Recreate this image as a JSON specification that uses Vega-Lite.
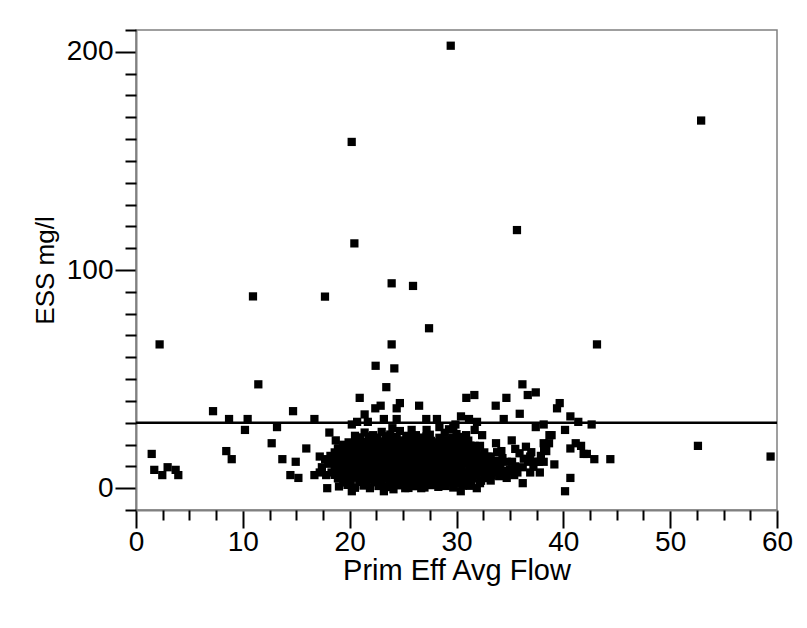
{
  "$schema": "https://vega.github.io/schema/vega-lite/v6.json",
  "width": 641,
  "height": 480,
  "autosize": "none",
  "padding": {"left": 136, "top": 30, "right": 30, "bottom": 118},
  "background": "white",
  "config": {
    "view": {"stroke": "#808080", "strokeWidth": 1.5},
    "font": "Liberation Sans"
  },
  "resolve": {"axis": {"x": "independent", "y": "independent"}},
  "layer": [
    {
      "data": {
        "values": [
          {"flow": 29.46, "ess": 202.8}, {"flow": 52.9, "ess": 168.5}, {"flow": 20.19, "ess": 158.7}, {"flow": 35.66, "ess": 118.3},
          {"flow": 20.44, "ess": 112.2}, {"flow": 23.93, "ess": 93.9}, {"flow": 25.93, "ess": 92.7}, {"flow": 17.69, "ess": 87.8},
          {"flow": 10.95, "ess": 87.9}, {"flow": 27.43, "ess": 73.3}, {"flow": 2.21, "ess": 65.9}, {"flow": 23.93, "ess": 65.9},
          {"flow": 43.15, "ess": 65.9}, {"flow": 22.43, "ess": 56.1}, {"flow": 24.18, "ess": 54.9}, {"flow": 11.45, "ess": 47.6},
          {"flow": 23.43, "ess": 46.3}, {"flow": 36.17, "ess": 47.6}, {"flow": 20.94, "ess": 41.4}, {"flow": 36.67, "ess": 42.7},
          {"flow": 37.42, "ess": 43.9}, {"flow": 34.67, "ess": 41.4}, {"flow": 30.92, "ess": 41.4}, {"flow": 31.67, "ess": 42.7},
          {"flow": 39.66, "ess": 39.0}, {"flow": 39.41, "ess": 36.6}, {"flow": 33.67, "ess": 37.8}, {"flow": 26.5, "ess": 37.8},
          {"flow": 22.4, "ess": 36.6}, {"flow": 22.9, "ess": 37.8}, {"flow": 24.4, "ess": 36.6}, {"flow": 24.7, "ess": 39.0},
          {"flow": 7.21, "ess": 35.3}, {"flow": 14.7, "ess": 35.3}, {"flow": 35.92, "ess": 34.1}, {"flow": 21.4, "ess": 33.8},
          {"flow": 8.71, "ess": 31.7}, {"flow": 10.45, "ess": 31.7}, {"flow": 16.7, "ess": 31.7}, {"flow": 23.2, "ess": 31.7},
          {"flow": 24.4, "ess": 31.7}, {"flow": 27.17, "ess": 31.7}, {"flow": 28.17, "ess": 31.7}, {"flow": 34.42, "ess": 31.7},
          {"flow": 31.17, "ess": 31.7}, {"flow": 30.42, "ess": 32.9}, {"flow": 40.66, "ess": 32.9}, {"flow": 31.92, "ess": 30.4},
          {"flow": 20.7, "ess": 30.4}, {"flow": 21.7, "ess": 30.4}, {"flow": 41.4, "ess": 30.4}, {"flow": 20.2, "ess": 29.2},
          {"flow": 29.9, "ess": 29.2}, {"flow": 38.16, "ess": 29.2}, {"flow": 42.65, "ess": 29.2}, {"flow": 28.4, "ess": 28.0},
          {"flow": 29.7, "ess": 28.0}, {"flow": 37.42, "ess": 28.0}, {"flow": 13.2, "ess": 28.0}, {"flow": 10.2, "ess": 26.7},
          {"flow": 40.16, "ess": 26.7}, {"flow": 27.2, "ess": 26.7}, {"flow": 25.8, "ess": 26.7}, {"flow": 31.7, "ess": 26.7},
          {"flow": 18.1, "ess": 25.5}, {"flow": 21.4, "ess": 25.5}, {"flow": 38.9, "ess": 24.3}, {"flow": 38.7, "ess": 24.3},
          {"flow": 26.2, "ess": 24.3}, {"flow": 22.2, "ess": 24.3}, {"flow": 32.4, "ess": 24.3}, {"flow": 30.9, "ess": 24.3},
          {"flow": 35.17, "ess": 21.9}, {"flow": 18.7, "ess": 21.9}, {"flow": 12.7, "ess": 20.6}, {"flow": 33.7, "ess": 20.6},
          {"flow": 38.16, "ess": 20.6}, {"flow": 38.66, "ess": 20.6}, {"flow": 41.16, "ess": 20.6}, {"flow": 41.66, "ess": 19.4},
          {"flow": 52.6, "ess": 19.4}, {"flow": 40.66, "ess": 18.2}, {"flow": 38.4, "ess": 17.0}, {"flow": 15.94, "ess": 18.2},
          {"flow": 18.9, "ess": 18.2}, {"flow": 8.45, "ess": 17.0}, {"flow": 1.47, "ess": 15.7}, {"flow": 41.9, "ess": 15.7},
          {"flow": 42.2, "ess": 15.7}, {"flow": 59.4, "ess": 14.5}, {"flow": 17.2, "ess": 14.5}, {"flow": 8.96, "ess": 13.3},
          {"flow": 13.7, "ess": 13.3}, {"flow": 17.7, "ess": 13.3}, {"flow": 42.9, "ess": 13.3}, {"flow": 44.4, "ess": 13.3},
          {"flow": 14.95, "ess": 12.1}, {"flow": 38.16, "ess": 12.1}, {"flow": 39.16, "ess": 10.9}, {"flow": 2.96, "ess": 9.6},
          {"flow": 17.4, "ess": 9.6}, {"flow": 1.71, "ess": 8.4}, {"flow": 3.71, "ess": 8.4}, {"flow": 17.2, "ess": 7.2},
          {"flow": 37.8, "ess": 7.2}, {"flow": 36.9, "ess": 7.2}, {"flow": 2.46, "ess": 6.0}, {"flow": 3.96, "ess": 6.0},
          {"flow": 14.45, "ess": 6.0}, {"flow": 16.7, "ess": 6.0}, {"flow": 17.8, "ess": 6.0}, {"flow": 15.2, "ess": 4.7},
          {"flow": 40.66, "ess": 4.7}, {"flow": 17.9, "ess": 0.0}, {"flow": 20.2, "ess": -1.4}, {"flow": 23.2, "ess": -1.4},
          {"flow": 30.4, "ess": -1.4}, {"flow": 40.16, "ess": -1.4}, {"flow": 21.9, "ess": 0.0}, {"flow": 25.2, "ess": 0.0},
          {"flow": 26.7, "ess": 0.0}, {"flow": 31.9, "ess": 0.0}, {"flow": 33.2, "ess": 3.5}, {"flow": 36.2, "ess": 2.3},
          {"flow": 32.2, "ess": 2.3}, {"flow": 31.2, "ess": 1.1}, {"flow": 34.7, "ess": 4.7}, {"flow": 34.2, "ess": 7.2},
          {"flow": 35.4, "ess": 6.0}, {"flow": 35.7, "ess": 7.2}, {"flow": 36.2, "ess": 9.6}, {"flow": 36.7, "ess": 12.1},
          {"flow": 36.9, "ess": 14.5}, {"flow": 37.4, "ess": 12.1}, {"flow": 37.7, "ess": 12.1}, {"flow": 38.2, "ess": 18.2},
          {"flow": 34.7, "ess": 12.1}, {"flow": 35.2, "ess": 12.1}, {"flow": 33.2, "ess": 14.5}, {"flow": 34.2, "ess": 17.0},
          {"flow": 31.7, "ess": 19.4}, {"flow": 32.2, "ess": 19.4}, {"flow": 27.4, "ess": 21.9}, {"flow": 30.7, "ess": 20.6},
          {"flow": 28.4, "ess": 23.1},
          {"flow": 19.0, "ess": 0.8}, {"flow": 19.8, "ess": 1.5}, {"flow": 20.5, "ess": 0.2}, {"flow": 21.3, "ess": 1.2},
          {"flow": 22.7, "ess": 1.0}, {"flow": 23.4, "ess": 0.5}, {"flow": 24.1, "ess": -0.5}, {"flow": 24.8, "ess": 1.3},
          {"flow": 25.5, "ess": 0.1}, {"flow": 26.2, "ess": 0.9}, {"flow": 27.0, "ess": 0.3}, {"flow": 27.6, "ess": 1.4},
          {"flow": 28.3, "ess": 0.6}, {"flow": 29.0, "ess": 1.0}, {"flow": 29.7, "ess": 0.3}, {"flow": 30.6, "ess": 1.2},
          {"flow": 19.4, "ess": 2.6}, {"flow": 20.1, "ess": 2.2}, {"flow": 20.9, "ess": 2.9}, {"flow": 21.6, "ess": 2.3},
          {"flow": 22.3, "ess": 2.7}, {"flow": 23.0, "ess": 2.1}, {"flow": 23.7, "ess": 2.8}, {"flow": 24.4, "ess": 2.4},
          {"flow": 25.1, "ess": 2.9}, {"flow": 25.8, "ess": 2.2}, {"flow": 26.5, "ess": 2.6}, {"flow": 27.2, "ess": 2.0},
          {"flow": 27.9, "ess": 2.8}, {"flow": 28.6, "ess": 2.3}, {"flow": 29.3, "ess": 2.7}, {"flow": 30.0, "ess": 2.1},
          {"flow": 30.7, "ess": 2.6}, {"flow": 31.4, "ess": 2.9},
          {"flow": 18.9, "ess": 4.5}, {"flow": 19.6, "ess": 3.7}, {"flow": 20.3, "ess": 4.8}, {"flow": 21.0, "ess": 3.5},
          {"flow": 21.7, "ess": 4.4}, {"flow": 22.4, "ess": 3.9}, {"flow": 23.1, "ess": 4.7}, {"flow": 23.8, "ess": 3.6},
          {"flow": 24.5, "ess": 4.2}, {"flow": 25.2, "ess": 3.8}, {"flow": 25.9, "ess": 4.6}, {"flow": 26.6, "ess": 3.5},
          {"flow": 27.3, "ess": 4.3}, {"flow": 28.0, "ess": 3.9}, {"flow": 28.7, "ess": 4.8}, {"flow": 29.4, "ess": 3.6},
          {"flow": 30.1, "ess": 4.4}, {"flow": 30.8, "ess": 3.8}, {"flow": 31.5, "ess": 4.5}, {"flow": 32.3, "ess": 3.4},
          {"flow": 33.0, "ess": 4.6},
          {"flow": 18.6, "ess": 6.1}, {"flow": 19.3, "ess": 5.7}, {"flow": 20.0, "ess": 6.3}, {"flow": 20.7, "ess": 5.8},
          {"flow": 21.4, "ess": 6.2}, {"flow": 22.1, "ess": 5.6}, {"flow": 22.8, "ess": 6.0}, {"flow": 23.5, "ess": 6.4},
          {"flow": 24.2, "ess": 5.7}, {"flow": 24.9, "ess": 6.1}, {"flow": 25.6, "ess": 5.8}, {"flow": 26.3, "ess": 6.3},
          {"flow": 27.0, "ess": 5.6}, {"flow": 27.7, "ess": 6.0}, {"flow": 28.4, "ess": 6.4}, {"flow": 29.1, "ess": 5.8},
          {"flow": 29.8, "ess": 6.2}, {"flow": 30.5, "ess": 5.7}, {"flow": 31.2, "ess": 6.1}, {"flow": 31.9, "ess": 5.9},
          {"flow": 32.6, "ess": 6.3}, {"flow": 33.3, "ess": 5.8},
          {"flow": 18.3, "ess": 7.2}, {"flow": 19.0, "ess": 8.0}, {"flow": 19.7, "ess": 7.4}, {"flow": 20.4, "ess": 8.2},
          {"flow": 21.1, "ess": 7.0}, {"flow": 21.8, "ess": 7.8}, {"flow": 22.5, "ess": 7.3}, {"flow": 23.2, "ess": 8.1},
          {"flow": 23.9, "ess": 7.1}, {"flow": 24.6, "ess": 7.9}, {"flow": 25.3, "ess": 7.4}, {"flow": 26.0, "ess": 8.3},
          {"flow": 26.7, "ess": 7.2}, {"flow": 27.4, "ess": 7.7}, {"flow": 28.1, "ess": 7.0}, {"flow": 28.8, "ess": 8.1},
          {"flow": 29.5, "ess": 7.5}, {"flow": 30.2, "ess": 7.9}, {"flow": 30.9, "ess": 7.1}, {"flow": 31.6, "ess": 8.0},
          {"flow": 32.3, "ess": 7.4}, {"flow": 33.0, "ess": 8.2}, {"flow": 33.7, "ess": 7.3},
          {"flow": 18.6, "ess": 9.4}, {"flow": 19.3, "ess": 9.8}, {"flow": 20.0, "ess": 9.3}, {"flow": 20.7, "ess": 9.7},
          {"flow": 21.4, "ess": 9.2}, {"flow": 22.1, "ess": 9.6}, {"flow": 22.8, "ess": 9.9}, {"flow": 23.5, "ess": 9.3},
          {"flow": 24.2, "ess": 9.7}, {"flow": 24.9, "ess": 9.2}, {"flow": 25.6, "ess": 9.8}, {"flow": 26.3, "ess": 9.4},
          {"flow": 27.0, "ess": 9.6}, {"flow": 27.7, "ess": 9.1}, {"flow": 28.4, "ess": 9.7}, {"flow": 29.1, "ess": 9.3},
          {"flow": 29.8, "ess": 9.8}, {"flow": 30.5, "ess": 9.2}, {"flow": 31.2, "ess": 9.6}, {"flow": 31.9, "ess": 9.4},
          {"flow": 32.6, "ess": 9.9}, {"flow": 33.3, "ess": 9.3}, {"flow": 34.0, "ess": 9.0}, {"flow": 34.7, "ess": 8.0},
          {"flow": 18.0, "ess": 11.2}, {"flow": 18.7, "ess": 10.6}, {"flow": 19.4, "ess": 11.5}, {"flow": 20.1, "ess": 10.8},
          {"flow": 20.8, "ess": 11.4}, {"flow": 21.5, "ess": 10.5}, {"flow": 22.2, "ess": 11.3}, {"flow": 22.9, "ess": 10.9},
          {"flow": 23.6, "ess": 11.6}, {"flow": 24.3, "ess": 10.7}, {"flow": 25.0, "ess": 11.2}, {"flow": 25.7, "ess": 10.6},
          {"flow": 26.4, "ess": 11.5}, {"flow": 27.1, "ess": 10.9}, {"flow": 27.8, "ess": 11.3}, {"flow": 28.5, "ess": 10.5},
          {"flow": 29.2, "ess": 11.4}, {"flow": 29.9, "ess": 10.8}, {"flow": 30.6, "ess": 11.6}, {"flow": 31.3, "ess": 10.7},
          {"flow": 32.0, "ess": 11.2}, {"flow": 32.7, "ess": 10.6}, {"flow": 33.4, "ess": 11.3}, {"flow": 34.1, "ess": 10.9},
          {"flow": 18.4, "ess": 12.9}, {"flow": 19.1, "ess": 13.2}, {"flow": 19.8, "ess": 12.7}, {"flow": 20.5, "ess": 13.1},
          {"flow": 21.2, "ess": 12.8}, {"flow": 21.9, "ess": 13.3}, {"flow": 22.6, "ess": 12.6}, {"flow": 23.3, "ess": 13.0},
          {"flow": 24.0, "ess": 12.8}, {"flow": 24.7, "ess": 13.3}, {"flow": 25.4, "ess": 12.7}, {"flow": 26.1, "ess": 13.1},
          {"flow": 26.8, "ess": 12.9}, {"flow": 27.5, "ess": 13.2}, {"flow": 28.2, "ess": 12.6}, {"flow": 28.9, "ess": 13.0},
          {"flow": 29.6, "ess": 12.8}, {"flow": 30.3, "ess": 13.3}, {"flow": 31.0, "ess": 12.7}, {"flow": 31.7, "ess": 13.1},
          {"flow": 32.4, "ess": 12.8}, {"flow": 33.1, "ess": 13.2}, {"flow": 33.8, "ess": 12.6},
          {"flow": 18.2, "ess": 14.8}, {"flow": 18.9, "ess": 14.1}, {"flow": 19.6, "ess": 14.9}, {"flow": 20.3, "ess": 14.3},
          {"flow": 21.0, "ess": 15.0}, {"flow": 21.7, "ess": 14.2}, {"flow": 22.4, "ess": 14.7}, {"flow": 23.1, "ess": 14.0},
          {"flow": 23.8, "ess": 14.9}, {"flow": 24.5, "ess": 14.4}, {"flow": 25.2, "ess": 15.1}, {"flow": 25.9, "ess": 14.2},
          {"flow": 26.6, "ess": 14.8}, {"flow": 27.3, "ess": 14.1}, {"flow": 28.0, "ess": 14.6}, {"flow": 28.7, "ess": 14.3},
          {"flow": 29.4, "ess": 15.0}, {"flow": 30.1, "ess": 14.2}, {"flow": 30.8, "ess": 14.7}, {"flow": 31.5, "ess": 14.0},
          {"flow": 32.2, "ess": 14.8}, {"flow": 32.9, "ess": 14.4},
          {"flow": 18.6, "ess": 16.4}, {"flow": 19.3, "ess": 16.8}, {"flow": 20.0, "ess": 16.2}, {"flow": 20.7, "ess": 16.6},
          {"flow": 21.4, "ess": 16.3}, {"flow": 22.1, "ess": 16.9}, {"flow": 22.8, "ess": 16.4}, {"flow": 23.5, "ess": 16.7},
          {"flow": 24.2, "ess": 16.2}, {"flow": 24.9, "ess": 16.6}, {"flow": 25.6, "ess": 16.3}, {"flow": 26.3, "ess": 16.8},
          {"flow": 27.0, "ess": 16.2}, {"flow": 27.7, "ess": 16.6}, {"flow": 28.4, "ess": 16.4}, {"flow": 29.1, "ess": 16.9},
          {"flow": 29.8, "ess": 16.3}, {"flow": 30.5, "ess": 16.6}, {"flow": 31.2, "ess": 16.2}, {"flow": 31.9, "ess": 16.7},
          {"flow": 32.6, "ess": 16.4},
          {"flow": 19.0, "ess": 18.2}, {"flow": 19.7, "ess": 17.6}, {"flow": 20.4, "ess": 18.4}, {"flow": 21.1, "ess": 17.8},
          {"flow": 21.8, "ess": 18.5}, {"flow": 22.5, "ess": 17.5}, {"flow": 23.2, "ess": 18.3}, {"flow": 23.9, "ess": 17.7},
          {"flow": 24.6, "ess": 18.6}, {"flow": 25.3, "ess": 17.9}, {"flow": 26.0, "ess": 18.2}, {"flow": 26.7, "ess": 17.4},
          {"flow": 27.4, "ess": 18.5}, {"flow": 28.1, "ess": 17.8}, {"flow": 28.8, "ess": 18.3}, {"flow": 29.5, "ess": 17.6},
          {"flow": 30.2, "ess": 18.4}, {"flow": 30.9, "ess": 17.9}, {"flow": 31.6, "ess": 18.1},
          {"flow": 19.4, "ess": 19.9}, {"flow": 20.1, "ess": 19.5}, {"flow": 20.8, "ess": 20.1}, {"flow": 21.5, "ess": 19.6},
          {"flow": 22.2, "ess": 20.0}, {"flow": 22.9, "ess": 19.4}, {"flow": 23.6, "ess": 20.2}, {"flow": 24.3, "ess": 19.7},
          {"flow": 25.0, "ess": 20.0}, {"flow": 25.7, "ess": 19.5}, {"flow": 26.4, "ess": 20.1}, {"flow": 27.1, "ess": 19.6},
          {"flow": 27.8, "ess": 20.0}, {"flow": 28.5, "ess": 19.4}, {"flow": 29.2, "ess": 19.9}, {"flow": 29.9, "ess": 19.6},
          {"flow": 30.6, "ess": 20.1}, {"flow": 31.3, "ess": 19.5},
          {"flow": 19.9, "ess": 21.0}, {"flow": 20.6, "ess": 21.8}, {"flow": 21.3, "ess": 21.2}, {"flow": 22.0, "ess": 22.0},
          {"flow": 22.7, "ess": 21.4}, {"flow": 23.4, "ess": 22.2}, {"flow": 24.1, "ess": 21.1}, {"flow": 24.8, "ess": 21.9},
          {"flow": 25.5, "ess": 21.3}, {"flow": 26.2, "ess": 22.1}, {"flow": 26.9, "ess": 21.2}, {"flow": 27.6, "ess": 21.7},
          {"flow": 28.3, "ess": 21.0}, {"flow": 29.0, "ess": 22.0}, {"flow": 29.7, "ess": 21.4}, {"flow": 30.4, "ess": 21.1},
          {"flow": 31.1, "ess": 21.8},
          {"flow": 21.0, "ess": 23.3}, {"flow": 21.8, "ess": 23.7}, {"flow": 22.6, "ess": 23.2}, {"flow": 23.4, "ess": 23.8},
          {"flow": 24.4, "ess": 23.4}, {"flow": 25.6, "ess": 23.6}, {"flow": 26.6, "ess": 23.2}, {"flow": 27.2, "ess": 23.8},
          {"flow": 29.6, "ess": 23.2}, {"flow": 30.4, "ess": 23.5},
          {"flow": 23.0, "ess": 25.8}, {"flow": 23.8, "ess": 24.6}, {"flow": 24.7, "ess": 26.2}, {"flow": 28.9, "ess": 25.4},
          {"flow": 30.0, "ess": 24.8}, {"flow": 29.3, "ess": 27.0}, {"flow": 24.0, "ess": 27.5}, {"flow": 20.5, "ess": 24.0},
          {"flow": 25.3, "ess": 24.0}, {"flow": 27.5, "ess": 24.5},
          {"flow": 33.6, "ess": 9.5}, {"flow": 34.3, "ess": 13.8}, {"flow": 35.5, "ess": 10.0}, {"flow": 35.9, "ess": 16.0},
          {"flow": 33.8, "ess": 16.5}, {"flow": 34.0, "ess": 5.5}, {"flow": 35.0, "ess": 8.5}, {"flow": 36.3, "ess": 13.5},
          {"flow": 37.0, "ess": 16.5}, {"flow": 36.5, "ess": 19.0}, {"flow": 35.5, "ess": 18.0}, {"flow": 33.5, "ess": 12.0},
          {"flow": 37.2, "ess": 9.8}, {"flow": 37.9, "ess": 14.8}
        ]
      },
      "mark": {"type": "point", "shape": "square", "filled": true, "size": 68, "color": "black", "opacity": 1},
      "encoding": {
        "x": {
          "field": "flow", "type": "quantitative",
          "scale": {"domain": [0, 60], "nice": false, "zero": false},
          "axis": {
            "orient": "bottom", "values": [0, 10, 20, 30, 40, 50, 60], "tickSize": 18, "tickWidth": 2, "tickColor": "black",
            "domainColor": "#808080", "domainWidth": 2, "grid": false,
            "labelFontSize": 28, "labelColor": "black", "labelPadding": 0, "labelFlush": false, "labelOverlap": false,
            "title": "Prim Eff Avg Flow", "titleFontSize": 29, "titleFontWeight": "normal", "titleColor": "black", "titlePadding": 0
          }
        },
        "y": {
          "field": "ess", "type": "quantitative",
          "scale": {"domain": [-10, 210], "nice": false, "zero": false},
          "axis": {
            "orient": "left", "values": [0, 100, 200], "tickSize": 21, "tickWidth": 2, "tickColor": "black",
            "domainColor": "#808080", "domainWidth": 2, "grid": false,
            "labelFontSize": 28, "labelColor": "black", "labelPadding": 2, "labelOverlap": false,
            "title": "ESS mg/l", "titleFontSize": 26, "titleFontWeight": "normal", "titleColor": "black", "titlePadding": 8
          }
        }
      }
    },
    {
      "data": {"values": [{"start": 0, "end": 60, "ess": 30}]},
      "mark": {"type": "rule", "color": "black", "strokeWidth": 2.5},
      "encoding": {
        "x": {
          "field": "start", "type": "quantitative",
          "scale": {"domain": [0, 60], "nice": false, "zero": false},
          "axis": {
            "orient": "bottom", "values": [2.5, 5, 7.5, 12.5, 15, 17.5, 22.5, 25, 27.5, 32.5, 35, 37.5, 42.5, 45, 47.5, 52.5, 55, 57.5],
            "tickSize": 10, "tickWidth": 2, "tickColor": "black", "labels": false, "domain": false, "grid": false, "title": null
          }
        },
        "x2": {"field": "end"},
        "y": {
          "field": "ess", "type": "quantitative",
          "scale": {"domain": [-10, 210], "nice": false, "zero": false},
          "axis": {
            "orient": "left", "values": [-10, 10, 20, 30, 40, 50, 60, 70, 80, 90, 110, 120, 130, 140, 150, 160, 170, 180, 190, 210],
            "tickSize": 11, "tickWidth": 2, "tickColor": "black", "labels": false, "domain": false, "grid": false, "title": null
          }
        }
      }
    }
  ]
}
